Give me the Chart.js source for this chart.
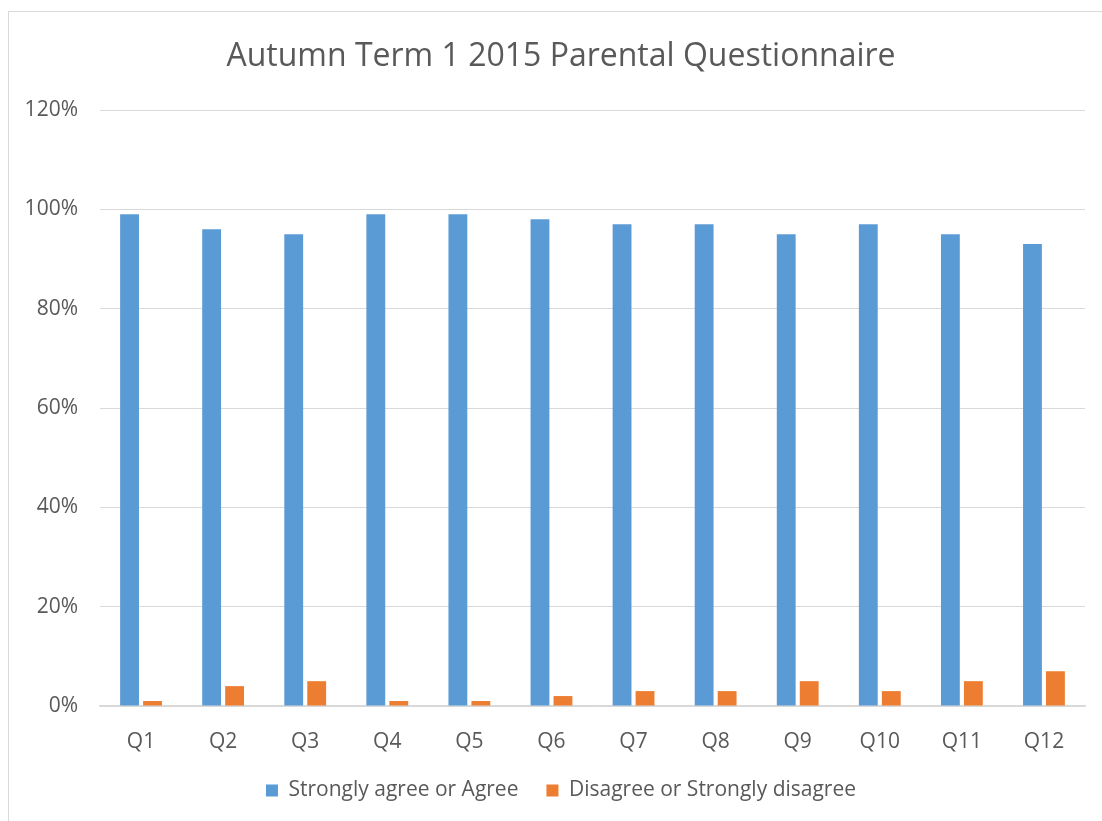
<!DOCTYPE html>
<html>
<head>
<meta charset="utf-8">
<title>Autumn Term 1 2015 Parental Questionnaire</title>
<script src="https://cdn.jsdelivr.net/npm/chart.js@4"></script>
<style>
    html, body { margin: 0; padding: 0; background: #fff; overflow: hidden; }
    #frame {
        position: absolute;
        left: 8px;
        top: 11px;
        height: 830px;
        border-left: 1px solid #d9d9d9;
        border-top: 1px solid #d9d9d9;
    }
    #frame canvas { display: block; }
</style>
</head>
<body>
<div id="frame">
    <canvas id="surveyChart" width="1104" height="799"></canvas>
</div>
<script>
// ─── Data ─────────────────────────────────────────────────────────────────
const questions = ['Q1', 'Q2', 'Q3', 'Q4', 'Q5', 'Q6', 'Q7', 'Q8', 'Q9', 'Q10', 'Q11', 'Q12'];
const agree     = [99, 96, 95, 99, 99, 98, 97, 97, 95, 97, 95, 93];
const disagree  = [1, 4, 5, 1, 1, 2, 3, 3, 5, 3, 5, 7];
const yTicks    = [0, 20, 40, 60, 80, 100, 120];

const TEXT_GREY = '#595959';
const LINE_GREY = '#d9d9d9';
const FONT      = "'Open Sans', sans-serif";

new Chart(document.getElementById('surveyChart'), {
    type: 'bar',
    data: {
        labels: questions,
        datasets: [
            {
                label: 'Strongly agree or Agree',
                data: agree,
                backgroundColor: '#5B9BD5',
                categoryPercentage: 0.56,
                barPercentage: 0.82
            },
            {
                label: 'Disagree or Strongly disagree',
                data: disagree,
                backgroundColor: '#ED7D31',
                categoryPercentage: 0.56,
                barPercentage: 0.82
            }
        ]
    },
    options: {
        responsive: false,
        animation: false,
        layout: { padding: 0 },
        plugins: {
            title: {
                display: true,
                text: 'Autumn Term 1 2015 Parental Questionnaire',
                color: TEXT_GREY,
                font: { family: FONT, size: 32, weight: 'normal' },
                padding: { top: 26, bottom: 33.6 }
            },
            legend: {
                position: 'bottom',
                labels: {
                    color: TEXT_GREY,
                    font: { family: FONT, size: 21 },
                    boxWidth: 12,
                    boxHeight: 12,
                    padding: 28
                }
            },
            tooltip: { enabled: false }
        },
        scales: {
            x: {
                grid: { display: false },
                border: { display: true, color: LINE_GREY, width: 1.5 },
                ticks: { color: TEXT_GREY, font: { family: FONT, size: 21 }, padding: 15 },
                afterFit: axis => { axis.height = 46; }
            },
            y: {
                min: 0,
                max: 120,
                afterBuildTicks: axis => { axis.ticks = yTicks.map(v => ({ value: v })); },
                grid: { color: LINE_GREY, drawTicks: false },
                border: { display: false },
                ticks: {
                    color: TEXT_GREY,
                    font: { family: FONT, size: 21 },
                    padding: 22,
                    callback: v => v + '%'
                },
                afterFit: axis => { axis.width = 91; }
            },
            // empty spacer on the right so title/legend centre like the original
            spacer: {
                type: 'linear',
                position: 'right',
                grid: { display: false },
                border: { display: false },
                ticks: { display: false },
                afterFit: axis => { axis.width = 28; }
            }
        }
    }
});
</script>
</body>
</html>
